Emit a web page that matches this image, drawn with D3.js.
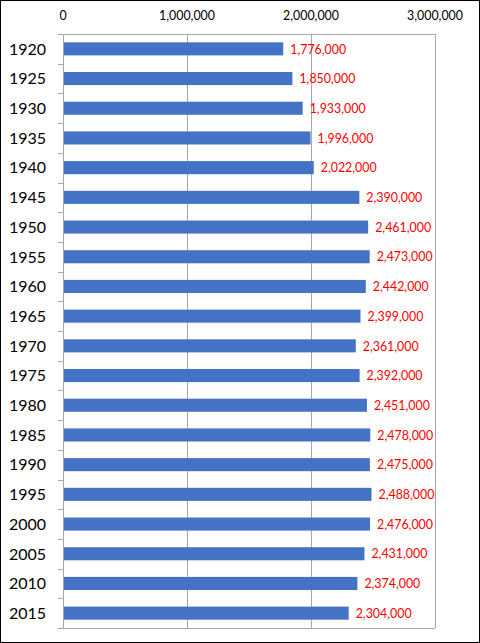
<!DOCTYPE html>
<html>
<head>
<meta charset="utf-8">
<script src="https://cdn.jsdelivr.net/npm/d3@7"></script>
<style>
  body { margin: 0; background: #fff; }
  svg { display: block; font-family: Lato, "Open Sans", sans-serif; }
</style>
</head>
<body>
<div id="chart"></div>
<script>
const years = ["1920", "1925", "1930", "1935", "1940", "1945", "1950", "1955", "1960", "1965",
  "1970", "1975", "1980", "1985", "1990", "1995", "2000", "2005", "2010", "2015"];
const population = [1776000, 1850000, 1933000, 1996000, 2022000, 2390000, 2461000, 2473000, 2442000, 2399000,
  2361000, 2392000, 2451000, 2478000, 2475000, 2488000, 2476000, 2431000, 2374000, 2304000];
const ticks = [0, 1000000, 2000000, 3000000];

const width = 480,
  height = 643,
  plotLeft = 63,
  plotRight = 435,
  plotTop = 34,
  plotBottom = 628;

const svg = d3.select("#chart").append("svg")
  .attr("width", width)
  .attr("height", height);

// outer frame
svg.append("rect")
  .attr("x", 0.5).attr("y", 0.5)
  .attr("width", width - 1).attr("height", height - 1)
  .attr("fill", "#fff")
  .attr("stroke", "#000");

const x = d3.scaleLinear().domain([0, 3000000]).range([plotLeft, plotRight]);
const y = d3.scaleBand().domain(years).range([plotTop, plotBottom]).paddingInner(0.56).paddingOuter(0.28);
const band = d3.scaleBand().domain(years).range([plotTop, plotBottom]);

const fmt = d3.format(",");

// gridlines
svg.selectAll(".grid")
  .data(ticks)
  .enter().append("line")
  .attr("x1", d => Math.round(x(d)) + 0.5)
  .attr("x2", d => Math.round(x(d)) + 0.5)
  .attr("y1", plotTop)
  .attr("y2", plotBottom)
  .attr("stroke", "#a6a6a6");

// plot frame top / bottom
svg.append("line")
  .attr("x1", x(0)).attr("x2", x(3000000))
  .attr("y1", plotTop + 0.5).attr("y2", plotTop + 0.5)
  .attr("stroke", "#a6a6a6");
svg.append("line")
  .attr("x1", x(0) - 5).attr("x2", x(3000000))
  .attr("y1", plotBottom + 0.5).attr("y2", plotBottom + 0.5)
  .attr("stroke", "#a6a6a6");

// category tick marks
svg.selectAll(".ytick")
  .data(years)
  .enter().append("line")
  .attr("x1", x(0) - 5)
  .attr("x2", x(0))
  .attr("y1", d => Math.round(band(d)) + 0.5)
  .attr("y2", d => Math.round(band(d)) + 0.5)
  .attr("stroke", "#a6a6a6");

// top tick labels
svg.selectAll(".xlabel")
  .data(ticks)
  .enter().append("text")
  .attr("x", d => x(d))
  .attr("y", 20)
  .attr("text-anchor", "middle")
  .style("font-size", "12.4px")
  .attr("fill", "#000")
  .text(d => fmt(d));

// bars
svg.selectAll(".bar")
  .data(population)
  .enter().append("rect")
  .attr("x", x(0) + 1)
  .attr("y", (d, i) => y(years[i]))
  .attr("width", d => x(d) - x(0) - 1)
  .attr("height", y.bandwidth())
  .attr("fill", "#4472c4");

// value labels
svg.selectAll(".value")
  .data(population)
  .enter().append("text")
  .attr("x", d => x(d) + 7)
  .attr("y", (d, i) => band(years[i]) + band.bandwidth() / 2)
  .attr("dy", "0.38em")
  .style("font-size", "12.4px")
  .attr("fill", "#ff0000")
  .text(d => fmt(d));

// year labels
svg.selectAll(".year")
  .data(years)
  .enter().append("text")
  .attr("x", 46)
  .attr("y", d => band(d) + band.bandwidth() / 2)
  .attr("dy", "0.36em")
  .attr("text-anchor", "end")
  .style("font-size", "16px")
  .attr("fill", "#000")
  .text(d => d);
</script>
</body>
</html>
